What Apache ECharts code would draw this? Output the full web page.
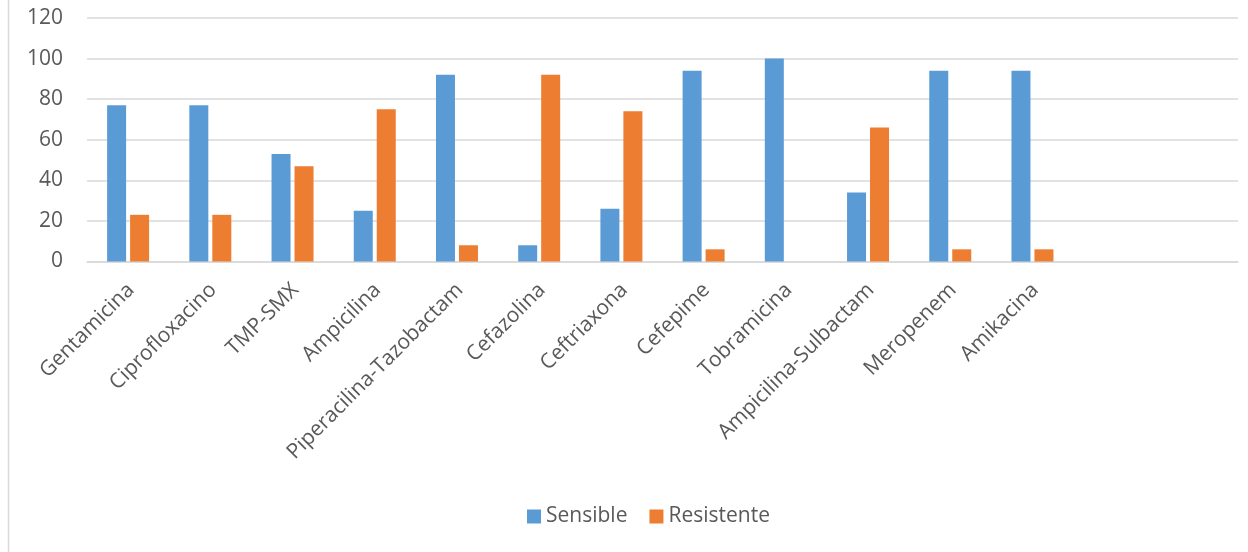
<!DOCTYPE html>
<html>
<head>
<meta charset="utf-8">
<script src="https://cdn.jsdelivr.net/npm/echarts@6/dist/echarts.min.js"></script>
<style>
  html, body { margin: 0; padding: 0; background: #fff; }
  #chart { width: 1248px; height: 552px; }
</style>
</head>
<body>
<div id="chart"></div>
<script>
// Antibiotics tested; two trailing empty slots keep the axis width
const categories = [
  'Gentamicina', 'Ciprofloxacino', 'TMP-SMX', 'Ampicilina',
  'Piperacilina-Tazobactam', 'Cefazolina', 'Ceftriaxona', 'Cefepime',
  'Tobramicina', 'Ampicilina-Sulbactam', 'Meropenem', 'Amikacina', '', ''
];
// Percentage of isolates per antibiotic
const sensible   = [77, 77, 53, 25, 92, 8, 26, 94, 100, 34, 94, 94];
const resistente = [23, 23, 47, 75, 8, 92, 74, 6, 0, 66, 6, 6];
const yTicks = { min: 0, max: 120, interval: 20 };

const textColor = '#595959';
const fontFamily = '"Open Sans", sans-serif';

const chart = echarts.init(document.getElementById('chart'), null, { renderer: 'canvas' });
chart.setOption({
  animation: false,
  backgroundColor: '#ffffff',
  textStyle: { fontFamily: fontFamily },
  graphic: [{
    type: 'line',
    shape: { x1: 8.5, y1: 0, x2: 8.5, y2: 552 },
    style: { stroke: '#d9d9d9', lineWidth: 1.5 }
  }],
  grid: { left: 87, right: 10, top: 18, bottom: 290.5, containLabel: false },
  legend: {
    data: ['Sensible', 'Resistente'],
    left: 522,
    top: 501,
    icon: 'rect',
    itemWidth: 14,
    itemHeight: 14,
    itemGap: 22,
    textStyle: { color: textColor, fontSize: 21, fontFamily: fontFamily }
  },
  xAxis: {
    type: 'category',
    data: categories,
    axisLine: { lineStyle: { color: '#d9d9d9', width: 1.5 } },
    axisTick: { show: false },
    axisLabel: {
      interval: 0,
      rotate: 45,
      margin: 28,
      padding: [0, -4, 0, 0],
      color: textColor,
      fontSize: 21,
      fontFamily: fontFamily
    }
  },
  yAxis: {
    type: 'value',
    min: yTicks.min,
    max: yTicks.max,
    interval: yTicks.interval,
    axisLine: { show: false },
    axisTick: { show: false },
    axisLabel: { color: textColor, fontSize: 21, margin: 24, fontFamily: fontFamily },
    splitLine: { lineStyle: { color: '#d9d9d9', width: 1.5 } }
  },
  series: [
    {
      name: 'Sensible',
      type: 'bar',
      data: sensible,
      barWidth: 19,
      barGap: '21%',
      itemStyle: { color: '#5b9bd5' }
    },
    {
      name: 'Resistente',
      type: 'bar',
      data: resistente,
      barWidth: 19,
      barGap: '21%',
      itemStyle: { color: '#ed7d31' }
    }
  ]
});
</script>
</body>
</html>
